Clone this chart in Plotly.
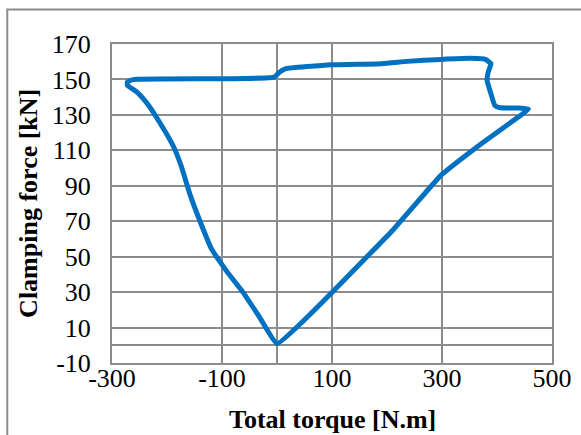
import plotly.graph_objects as go

# Total torque [N.m] and clamping force [kN] (one closed loop)
torque = [0, -31, -62, -92, -120, -140, -157, -174, -188, -208, -235, -255, -272, -272, -262,
          -100, -5, 5, 15, 99, 190, 237, 298, 352, 379, 389, 384, 382, 389, 396, 406, 440, 457,
          447, 372, 332, 298, 271, 210, 163, 99, 49, 0]
force = [1, 15.5, 30, 42, 55, 70, 84, 101, 112, 123, 136, 143, 146.7, 148.6, 149.9,
         150.4, 151.3, 154.2, 156, 158.3, 158.9, 160.2, 161.3, 161.9, 161.3, 158.9, 154.2, 149.4, 141.9, 135.4, 134, 133.9, 133.3,
         130.7, 113.8, 104.4, 95.9, 86.5, 64.8, 49.8, 29.5, 14.1, 1]

x_ticks = [-300, -100, 100, 300, 500]
y_ticks = [-10, 10, 30, 50, 70, 90, 110, 130, 150, 170]
x_title = "Total torque [N.m]"
y_title = "Clamping force [kN]"

font_family = "Liberation Serif, Times New Roman, serif"
grid = "#8c8c8c"

fig = go.Figure()
fig.add_trace(go.Scatter(x=torque, y=force, mode="lines",
                         line=dict(color="#0070C0", width=5, shape="spline", smoothing=0.4),
                         showlegend=False, hoverinfo="skip"))

axis_common = dict(showgrid=True, gridcolor=grid, gridwidth=2,
                   zeroline=True, zerolinecolor=grid, zerolinewidth=2,
                   showline=True, mirror=True, linecolor=grid, linewidth=2,
                   ticks="", tickfont=dict(size=26), automargin=False)

fig.update_layout(
    width=581, height=435,
    margin=dict(l=112, r=29, t=44, b=72),
    paper_bgcolor="white", plot_bgcolor="white",
    font=dict(family=font_family, size=26, color="black"),
    xaxis=dict(range=[-300, 500], tickvals=x_ticks, ticktext=[str(v) for v in x_ticks],
               ticklabelstandoff=-9, **axis_common),
    yaxis=dict(range=[-10, 170], tickvals=y_ticks, ticktext=[str(v) for v in y_ticks],
               ticklabelstandoff=14, **axis_common),
    annotations=[
        dict(text="<b>" + x_title + "</b>", xref="paper", yref="paper", x=0.5, y=-0.178,
             xanchor="center", yanchor="middle", showarrow=False, font=dict(size=26)),
        dict(text="<b>" + y_title + "</b>", xref="paper", yref="paper", x=-0.19, y=0.5,
             xanchor="center", yanchor="middle", showarrow=False, textangle=-90, font=dict(size=26)),
    ],
    shapes=[dict(type="rect", xref="paper", yref="paper",
                 x0=-0.238, x1=1.3, y0=-0.5, y1=1.108,
                 line=dict(color="#8c8c8c", width=2), fillcolor="rgba(0,0,0,0)", layer="below")],
)

fig.write_html("out.html", config={"displayModeBar": False},
               post_script="document.body.style.margin='0';document.body.style.overflow='hidden';")
